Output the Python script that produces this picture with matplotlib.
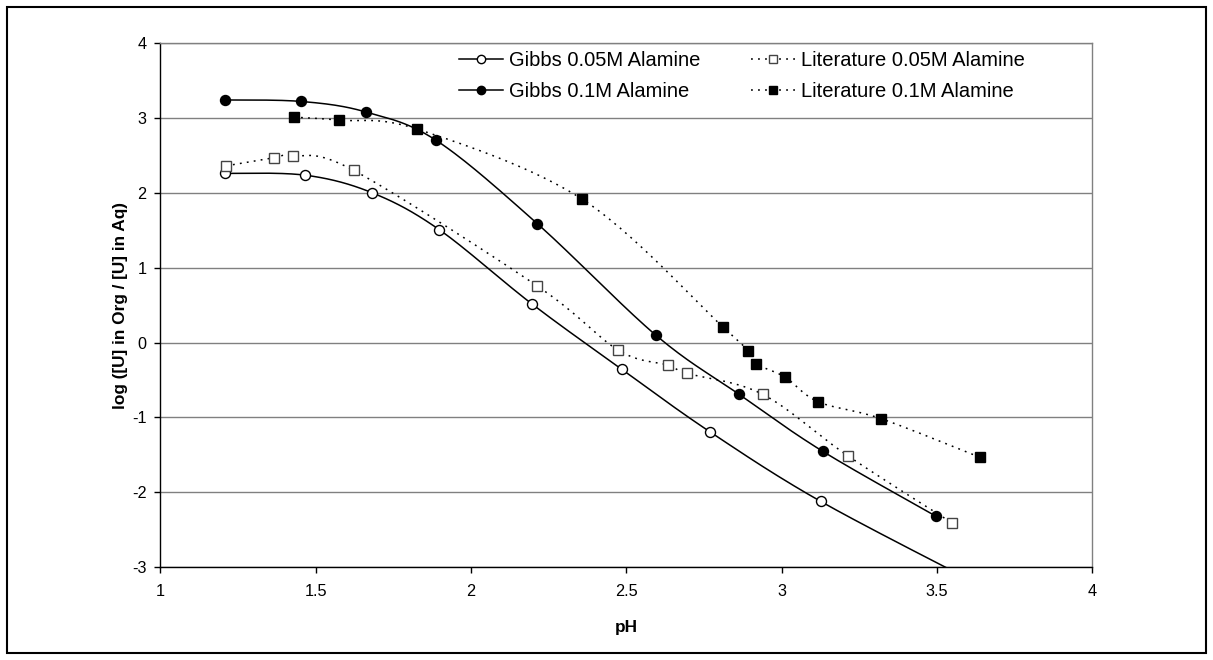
import numpy as np
import matplotlib
matplotlib.use("Agg")
import matplotlib.pyplot as plt
from matplotlib.patches import Rectangle

plt.rcParams['font.family'] = ['Liberation Sans', 'DejaVu Sans']
plt.rcParams['axes.unicode_minus'] = False

# data
gibbs_005_ph = [1.208, 1.467, 1.682, 1.897, 2.195, 2.485, 2.769, 3.126, 3.65]
gibbs_005_logd = [2.26, 2.235, 2.00, 1.51, 0.52, -0.355, -1.19, -2.12, -3.26]

gibbs_01_ph = [1.208, 1.453, 1.661, 1.888, 2.213, 2.595, 2.863, 3.132, 3.498]
gibbs_01_logd = [3.24, 3.22, 3.08, 2.70, 1.59, 0.10, -0.69, -1.45, -2.32]

lit_005_ph = [1.211, 1.364, 1.427, 1.622, 2.213, 2.474, 2.633, 2.696, 2.939, 3.213, 3.55]
lit_005_logd = [2.36, 2.466, 2.497, 2.30, 0.757, -0.10, -0.30, -0.41, -0.69, -1.51, -2.41]

lit_01_ph = [1.430, 1.576, 1.827, 2.358, 2.81, 2.893, 2.919, 3.011, 3.118, 3.32, 3.638]
lit_01_logd = [3.01, 2.97, 2.85, 1.915, 0.214, -0.11, -0.285, -0.46, -0.79, -1.015, -1.53]

labels = ["Gibbs 0.05M Alamine", "Gibbs 0.1M Alamine",
          "Literature 0.05M Alamine", "Literature 0.1M Alamine"]


def smooth(x, y, n=30):
    # excel-like smoothed line (catmull-rom as bezier segments)
    p = np.column_stack([x, y]).astype(float)
    pts = np.vstack([p[0], p, p[-1]])
    out = []
    t = np.linspace(0, 1, n)[:, None]
    for i in range(1, len(pts) - 2):
        p0, p1, p2, p3 = pts[i - 1], pts[i], pts[i + 1], pts[i + 2]
        c1 = p1 + (p2 - p0) / 6
        c2 = p2 - (p3 - p1) / 6
        seg = ((1 - t) ** 3) * p1 + 3 * ((1 - t) ** 2) * t * c1 + 3 * (1 - t) * t ** 2 * c2 + t ** 3 * p2
        out.append(seg)
    out = np.vstack(out)
    return out[:, 0], out[:, 1]


fig = plt.figure(figsize=(12.13, 6.6), dpi=100)
ax = fig.add_axes([0.1323, 0.1405, 0.768, 0.7943])

dotted = (0, (1.2, 3.4))
series = [
    (gibbs_005_ph, gibbs_005_logd, '-', 'o', 'white', 'black'),
    (gibbs_01_ph, gibbs_01_logd, '-', 'o', 'black', 'black'),
    (lit_005_ph, lit_005_logd, dotted, 's', 'white', '#444444'),
    (lit_01_ph, lit_01_logd, dotted, 's', 'black', 'black'),
]

handles = []
for (x, y, ls, mk, fc, ec), lab in zip(series, labels):
    sx, sy = smooth(x, y)
    ax.plot(sx, sy, color='black', lw=1.1, linestyle=ls, zorder=3)
    ax.plot(x, y, linestyle='none', marker=mk, ms=7.2 if mk == 'o' else 7,
            mfc=fc, mec=ec, mew=1.0, zorder=4)
    h, = ax.plot([], [], color='black', lw=1.1, linestyle=ls, marker=mk,
                 ms=6 if mk == 'o' else 6, mfc=fc, mec=ec, mew=1.0)
    handles.append(h)

ax.set_xlim(1, 4)
ax.set_ylim(-3, 4)
ax.set_xticks([1, 1.5, 2, 2.5, 3, 3.5, 4])
ax.set_xticklabels(['1', '1.5', '2', '2.5', '3', '3.5', '4'])
ax.set_yticks(range(-3, 5))

ax.grid(axis='y', color='#808080', lw=1.0)
ax.set_axisbelow(True)
for s in ['top', 'right']:
    ax.spines[s].set_color('#808080')
    ax.spines[s].set_linewidth(1.0)
for s in ['left', 'bottom']:
    ax.spines[s].set_color('black')
    ax.spines[s].set_linewidth(1.0)
ax.tick_params(direction='out', length=4, width=1, colors='black', labelsize=11.7)
ax.tick_params(axis='y', pad=6)
ax.tick_params(axis='x', pad=8)

ax.set_xlabel('pH', fontsize=12.4, fontweight='bold', labelpad=15)
ax.set_ylabel('log ([U] in Org / [U] in Aq)', fontsize=12.4, fontweight='bold', labelpad=3)

ax.legend([handles[0], handles[1], handles[2], handles[3]], labels, ncol=2,
          loc='upper left', bbox_to_anchor=(0.3205, 0.985), frameon=False,
          fontsize=14.5, handlelength=2.2, handletextpad=0.3, columnspacing=2.5,
          labelspacing=0.6, borderpad=0, borderaxespad=0)

fig.patches.append(Rectangle((7 / 1213, 7 / 660), 1199 / 1213, 646 / 660,
                             transform=fig.transFigure, fill=False, lw=1.5,
                             ec='black'))

fig.savefig('out.png', dpi=100)
